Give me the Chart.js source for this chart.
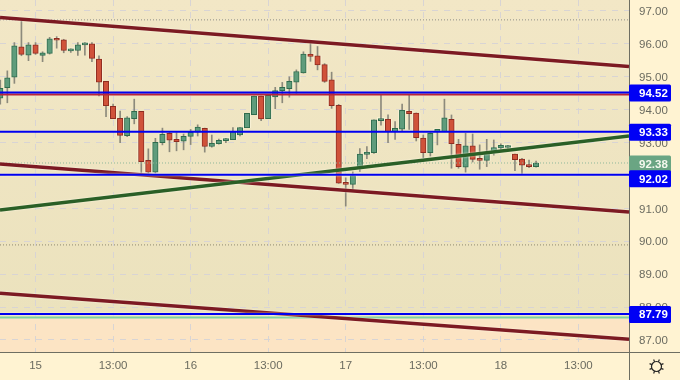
<!DOCTYPE html>
<html>
<head>
<meta charset="utf-8">
<style>html,body{margin:0;padding:0;background:#fff3d2}canvas{display:block}</style>
<script src="https://cdn.jsdelivr.net/npm/chart.js@4"></script>
</head>
<body>
<canvas id="c" width="680" height="380"></canvas>
<script>
const opens = [94.35,94.67,94.99,95.91,95.66,95.97,95.65,95.71,96.13,96.12,95.79,95.80,95.97,96.00,95.54,94.86,94.10,93.74,93.21,93.73,93.95,92.46,92.10,93.00,93.28,93.10,93.04,93.19,93.32,93.43,92.88,92.97,93.06,93.09,93.23,93.45,93.85,94.41,93.73,94.39,94.58,94.64,94.84,95.12,95.69,95.64,95.37,94.91,94.13,91.78,91.73,92.23,92.64,92.69,93.67,93.71,93.33,93.41,93.95,93.90,93.14,92.69,93.33,93.33,93.71,92.95,92.25,92.90,92.51,92.46,92.70,92.84,92.85,92.65,92.50,92.32,92.27];
const highs = [94.90,95.18,96.04,96.71,96.04,96.04,95.76,96.20,96.22,96.14,95.85,96.04,96.04,96.04,95.64,94.86,94.17,93.96,93.79,94.32,93.95,92.81,93.13,93.44,93.32,93.30,93.26,93.40,93.54,93.44,93.23,93.11,93.13,93.46,93.46,93.89,94.41,94.41,94.44,94.68,94.83,95.00,95.21,95.76,96.04,95.92,95.40,95.14,94.16,91.93,92.11,92.82,92.88,93.69,94.46,93.84,93.64,94.17,94.46,93.90,93.23,93.30,93.40,94.32,93.84,93.10,93.28,93.26,92.93,93.10,93.08,92.96,92.92,92.65,92.52,92.47,92.44];
const lows = [94.17,94.21,94.80,95.64,95.49,95.68,95.46,95.69,95.87,95.73,95.74,95.65,95.66,95.46,94.42,93.79,93.73,93.00,93.18,93.57,92.02,92.05,92.07,92.93,92.72,92.75,92.78,92.94,93.20,92.71,92.86,92.95,93.00,93.09,93.20,93.45,93.85,93.67,93.73,94.03,94.21,94.38,94.50,95.11,95.47,95.21,94.83,94.04,91.76,91.07,91.54,92.12,92.51,92.67,93.53,93.00,93.10,93.33,93.40,93.05,92.54,92.59,92.93,93.33,92.22,92.22,92.10,92.41,92.19,92.27,92.62,92.75,92.77,92.15,92.05,92.24,92.25];
const closes = [94.65,94.97,95.94,95.68,95.97,95.71,95.73,96.15,96.11,95.80,95.82,95.97,96.01,95.56,94.84,94.12,93.73,93.22,93.75,93.95,92.42,92.10,93.01,93.25,93.07,93.03,93.19,93.31,93.47,92.88,92.98,93.07,93.10,93.33,93.46,93.89,94.41,93.72,94.44,94.58,94.68,94.86,95.16,95.69,95.62,95.36,94.86,94.12,91.77,91.73,92.00,92.65,92.71,93.69,93.69,93.33,93.43,93.98,93.88,93.15,92.69,93.28,93.40,93.75,92.97,92.27,92.90,92.49,92.46,92.70,92.85,92.92,92.87,92.48,92.31,92.27,92.38];

const priceTicks = [87,88,89,90,91,92,93,94,95,96,97];
const timeTickIndex = [5,16,27,38,49,60,71,82];
const timeTickLabels = ['15','13:00','16','13:00','17','13:00','18','13:00'];

const channelTop = [96.80,95.31];
const channelMid = [92.35,90.89];
const channelLow = [88.42,87.02];
const supportLine = [90.95,93.20];
const blueLevels = [94.52,93.33,92.02,87.79];
const redLevel = 94.46;
const greenLevel = 87.68;
const dottedLevels = [96.73,92.38,89.89];
const lastPrice = 92.38;
const xMin = -0.04, xMax = 89.18;
const yMin = 86.635, yMax = 97.334;

const idx = opens.map((_, i) => i);
const isUp = i => closes[i] >= opens[i];
const hLine = (values, color, width, extra) => Object.assign({
  type: 'line',
  data: [{x: xMin, y: values[0]}, {x: xMax, y: values[1]}],
  borderColor: color, borderWidth: width, pointRadius: 0, tension: 0, order: 1
}, extra || {});

const datasets = [
  {type:'bar', data: idx.map(i => ({x:i, y:[Math.min(opens[i],closes[i]), Math.max(opens[i],closes[i])]})),
   barThickness: 7.5, minBarLength: 3, grouped:false, backgroundColor:'rgba(255,250,225,0.55)', order: 6},
  {type:'bar', data: idx.map(i => ({x:i, y:[lows[i], highs[i]]})),
   barThickness: 1, grouped:false, backgroundColor:'#8c8a7c', order: 5},
  {type:'bar', data: idx.map(i => ({x:i, y:[Math.min(opens[i],closes[i]), Math.max(opens[i],closes[i])]})),
   barThickness: 5.5, minBarLength: 2, grouped:false, borderSkipped:false, borderWidth:1,
   backgroundColor: idx.map(i => isUp(i) ? '#5f9c7c' : '#d0523a'),
   borderColor: idx.map(i => isUp(i) ? '#2f6b4c' : '#8e2c20'), order: 4},
  ...dottedLevels.map((v,k) => hLine([v,v], ['#8f8f88','#8fb79a','#8f8a70'][k], 1, {borderDash:[1,2], order:3})),
  hLine([greenLevel,greenLevel], '#7fd3a2', 2, {order:3}),
  hLine([redLevel,redLevel], '#b8243c', 2, {order:3}),
  ...blueLevels.map((v,k) => hLine([v,v], '#0000f0', 2, {order:1, halo:k>=2})),
  hLine(supportLine, '#2a5f26', 3.5, {order:2, halo:true}),
  hLine(channelTop, '#7c1a22', 3.5, {order:2, halo:true}),
  hLine(channelMid, '#7c1a22', 3.5, {order:2, halo:true}),
  hLine(channelLow, '#7c1a22', 3.5, {order:2, halo:true})
];

const panel = {
  id:'panel',
  beforeDraw(chart){
    const {ctx, chartArea:a, scales:{y}} = chart;
    ctx.save();
    ctx.fillStyle='#fff3d2'; ctx.fillRect(0,0,chart.width,chart.height);
    const band = y.getPixelForValue(greenLevel);
    const g = ctx.createLinearGradient(0,a.top,0,band);
    g.addColorStop(0,'#f2e7c6'); g.addColorStop(1,'#ebe2bd');
    ctx.fillStyle=g; ctx.fillRect(a.left,a.top,a.right-a.left,band-a.top);
    ctx.fillStyle='#fce4c4'; ctx.fillRect(a.left,band,a.right-a.left,a.bottom-band);
    ctx.restore();
  },
  beforeDatasetDraw(chart,args){
    const ds = chart.data.datasets[args.index];
    if(ds.halo){ const c=chart.ctx; c.save(); c.shadowColor='rgba(255,252,235,0.9)'; c.shadowBlur=2; }
  },
  afterDatasetDraw(chart,args){
    if(chart.data.datasets[args.index].halo) chart.ctx.restore();
  },
  afterDraw(chart){
    const {ctx, chartArea:a, scales:{y}} = chart;
    ctx.save();
    ctx.strokeStyle='#6e6e62'; ctx.lineWidth=1;
    ctx.beginPath();
    ctx.moveTo(a.right+0.5,0); ctx.lineTo(a.right+0.5,chart.height);
    ctx.moveTo(0,a.bottom+0.5); ctx.lineTo(chart.width,a.bottom+0.5);
    ctx.stroke();
    const tag=(v,fill,shift,color)=>{
      const cy=y.getPixelForValue(v)+shift;
      ctx.fillStyle=fill;
      ctx.beginPath(); ctx.roundRect(a.right,cy-8.5,42,17,1.5); ctx.fill();
      ctx.fillStyle=color; ctx.font='bold 11.5px "Liberation Sans"';
      ctx.textAlign='left'; ctx.textBaseline='middle';
      ctx.fillText(v.toFixed(2),a.right+10,cy+0.5);
    };
    tag(lastPrice,'#6aa583',1,'#f4f8ee');
    [0,1,3].forEach(k=>tag(blueLevels[k],'#0000f5',0.5,'#ffffff'));
    tag(blueLevels[2],'#0000f5',4,'#ffffff');
    // settings icon
    const cx=656.5, cy=366.5;
    ctx.strokeStyle='#222'; ctx.lineWidth=1.2;
    ctx.beginPath(); ctx.arc(cx,cy,5,0,Math.PI*2); ctx.stroke();
    ctx.beginPath();
    for(let k=0;k<8;k++){
      const t=k*Math.PI/4+Math.PI/8;
      ctx.moveTo(cx+Math.cos(t)*5,cy+Math.sin(t)*5);
      ctx.lineTo(cx+Math.cos(t)*7.5,cy+Math.sin(t)*7.5);
    }
    ctx.stroke();
    ctx.restore();
  }
};
const noPad = s => { s.paddingLeft = s.paddingRight = s.paddingTop = s.paddingBottom = 0; };

new Chart(document.getElementById('c'),{
  type:'bar',
  data:{datasets},
  plugins:[panel],
  options:{
    responsive:false, animation:false, parsing:true,
    layout:{padding:0},
    plugins:{legend:{display:false},tooltip:{enabled:false}},
    scales:{
      x:{type:'linear',min:xMin,max:xMax,offset:false,
        afterFit(s){s.height=28;noPad(s);},
        afterBuildTicks(s){s.ticks=timeTickIndex.map(v=>({value:v}));},
        grid:{color:'#d8d4d4',drawTicks:false,tickLength:0,lineWidth:1,offset:false},
        border:{display:false,dash:[6,6]},
        ticks:{autoSkip:false,maxRotation:0,padding:7,color:'#6b6b60',font:{family:'"Liberation Sans"',size:11.5},
          callback(v){const k=timeTickIndex.indexOf(v);return k>=0?timeTickLabels[k]:'';}}
      },
      y:{type:'linear',position:'right',min:yMin,max:yMax,
        afterFit(s){s.width=51;noPad(s);},
        afterBuildTicks(s){s.ticks=priceTicks.map(v=>({value:v}));},
        grid:{color:'#d8d4d4',drawTicks:false,tickLength:0,lineWidth:1},
        border:{display:false,dash:[6,6]},
        ticks:{padding:10,labelOffset:1,color:'#6b6b60',font:{family:'"Liberation Sans"',size:11.5},
          callback(v){return Number(v).toFixed(2);}}
      }
    }
  }
});
</script>
</body>
</html>
